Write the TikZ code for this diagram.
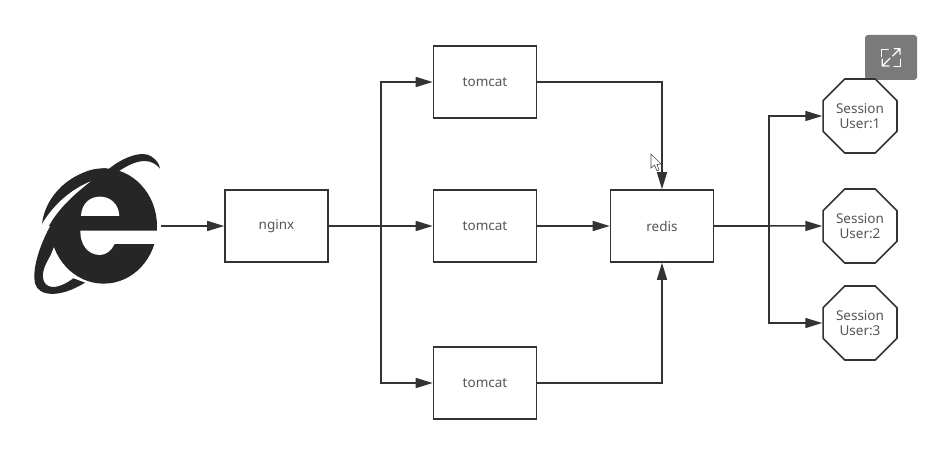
\documentclass[tikz,border=0pt]{standalone}
\usepackage{fontspec}
\setmainfont{Noto Sans}
\usetikzlibrary{arrows.meta,shapes.geometric}
\definecolor{ln}{HTML}{333333}
\definecolor{tx}{HTML}{555555}
\definecolor{btn}{HTML}{7A7A7A}
\tikzset{
 x=1pt,y=-1pt,
 boxn/.style={draw=ln,line width=1.6pt,minimum width=103pt,minimum height=72pt,inner sep=0pt,text=tx,font=\fontsize{13.5}{15}\selectfont},
 octn/.style={draw=ln,line width=1.6pt,regular polygon,regular polygon sides=8,minimum size=80pt,inner sep=0pt,align=center,text=tx,font=\fontsize{13.5}{15.5}\selectfont},
 conn/.style={draw=ln,line width=1.5pt,-{Triangle[length=17pt,width=10pt]},rounded corners=0pt},
}
\begin{document}
\begin{tikzpicture}
\useasboundingbox (0,0) rectangle (935,465);
\fill[white] (0,0) rectangle (935,465);
% browser icon
\begin{scope}[shift={(20,140)},x=0.3333pt,y=-0.3333pt]
 \fill[black!85] (251,258) ellipse [x radius=160pt*0.3333,y radius=173pt*0.3333];
 % upper left lobe
 \fill[black!85] (66,252) .. controls (75,170) and (150,88) .. (260,85) -- (260,200) -- (100,260) -- cycle;
 % upper swoosh
 \fill[black!85] (265,88) .. controls (310,50) and (370,30) .. (395,50) .. controls (410,60) and (418,72) .. (420,86) .. controls (400,62) and (365,45) .. (290,98) -- cycle;
 % white sliver
 \fill[white] (212,124) .. controls (150,150) and (100,195) .. (66,252) -- (84,262) .. controls (115,205) and (160,165) .. (212,124) -- cycle;
 % lower swoosh
 \fill[black!85] (102,238) .. controls (65,300) and (35,380) .. (45,430) .. controls (55,470) and (120,475) .. (195,428) -- (160,415) .. controls (120,445) and (85,450) .. (72,425) .. controls (62,400) and (75,375) .. (92,345) -- (110,300) -- cycle;
 \fill[white] (183,228) .. controls (185,190) and (210,170) .. (240,170) .. controls (270,170) and (296,190) .. (298,228) -- cycle;
 \fill[white] (181,272) .. controls (180,315) and (205,345) .. (240,345) .. controls (260,345) and (275,330) .. (284,312) -- (420,312) -- (420,272) -- cycle;
\end{scope}
% expand button
\fill[btn,rounded corners=3pt] (865,35) rectangle (917,80);
\begin{scope}[white,line width=1.3pt,line cap=round,line join=round]
 \draw (881.7,56.7) -- (881.7,49.3) -- (888.3,49.3);
 \draw (900.7,59.3) -- (900.7,66.7) -- (894,66.7);
 \draw (892.7,56) -- (900,48.7) (894.3,48.7) -- (900,48.7) -- (900,54.3);
 \draw (890,58.3) -- (882.3,66) (882.3,59.3) -- (882.3,66) -- (889,66);
\end{scope}
% nodes
\node[boxn] (nginx) at (276.5,226) {nginx};
\node[boxn] (t1) at (485,82) {tomcat};
\node[boxn] (t2) at (485,226) {tomcat};
\node[boxn] (t3) at (485,383) {tomcat};
\node[boxn] (redis) at (662,226) {redis};
\node[octn] (s1) at (860,116) {Session\\User:1};
\node[octn] (s2) at (860,226) {Session\\User:2};
\node[octn] (s3) at (860,323) {Session\\User:3};
\coordinate (ie) at (161,226);
\coordinate (j1) at (381,226);
\coordinate (j2) at (769,226);
% connectors
\draw[conn] (ie) -- (nginx);
\draw[conn] (nginx) -- (t2);
\draw[conn] (nginx.east) -- (j1) |- (t1);
\draw[conn] (nginx.east) -- (j1) |- (t3);
\draw[conn] (t2) -- (redis);
\draw[conn] (t1.east) -| (redis.north);
\draw[conn] (t3.east) -| (redis.south);
\draw[conn] (redis) -- (s2);
\draw[conn] (redis.east) -- (j2) |- (s1);
\draw[conn] (redis.east) -- (j2) |- (s3);
% mouse cursor
\draw[black!70,fill=white,line width=0.6pt] (651,154) -- (651,168) -- (654.5,165) -- (657,171) -- (659,170) -- (657,164.5) -- (661,164) -- cycle;
\end{tikzpicture}
\end{document}
